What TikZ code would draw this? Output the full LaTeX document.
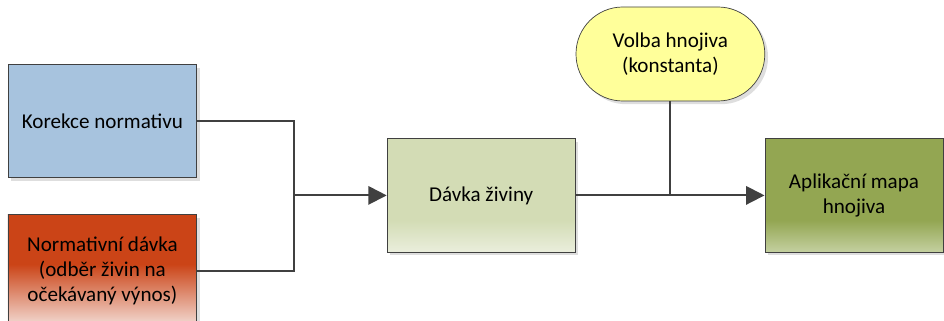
\documentclass[tikz,border=0pt]{standalone}
\usepackage{fontspec}
\setmainfont{Carlito}
\usepackage{tikz}
\usetikzlibrary{arrows.meta, positioning, shadows}

\definecolor{linegray}{HTML}{404040}
\definecolor{korfill}{HTML}{A7C3DE}
\definecolor{normbase}{HTML}{CB4417}
\definecolor{normlight}{HTML}{F4E0DA}
\definecolor{davkabase}{HTML}{D3DCB5}
\definecolor{davkalight}{HTML}{EAEEDC}
\definecolor{aplbase}{HTML}{93A652}
\definecolor{apllight}{HTML}{C4D0A0}
\definecolor{volbafill}{HTML}{FFFF9A}

% vertical fades (box spans 25bp..75bp)
\pgfdeclareverticalshading{normfade}{100bp}{color(0bp)=(normlight); color(25bp)=(normlight); color(53bp)=(normbase); color(100bp)=(normbase)}
\pgfdeclareverticalshading{davkafade}{100bp}{color(0bp)=(davkalight); color(25bp)=(davkalight); color(39bp)=(davkabase); color(100bp)=(davkabase)}
\pgfdeclareverticalshading{aplfade}{100bp}{color(0bp)=(apllight); color(25bp)=(apllight); color(39bp)=(aplbase); color(100bp)=(aplbase)}

\begin{document}
\begin{tikzpicture}[
    font=\fontsize{15}{18}\selectfont,
    box/.style={draw=linegray, line width=0.7pt, align=center,
        minimum width=4.72cm, minimum height=2.83cm,
        drop shadow={shadow xshift=0.08cm, shadow yshift=-0.08cm, fill=black!13, opacity=1}},
    pill/.style={box, rounded corners=1.17cm, minimum height=2.35cm, fill=volbafill, line width=0.5pt},
    link/.style={draw=linegray, line width=1.4pt},
    arrow/.style={link, -{Triangle[length=4.6mm, width=4.6mm]}}
]
\clip (0,0) rectangle (23.6,8.025);

% Inputs (left)
\node[box, fill=korfill] (kor) at (2.56,5.0) {Korekce normativu};
\node[box, shading=normfade] (norm) at (2.56,1.25) {Normativní dávka\\(odběr živin na\\očekávaný výnos)};

% Centre and output
\node[box, shading=davkafade, minimum width=4.7cm] (davka) at (12.03,3.14) {Dávka živiny};
\node[pill] (volba) at (16.76,6.675) {Volba hnojiva\\(konstanta)};
\node[box, shading=aplfade, minimum width=4.45cm] (apl) at (21.35,3.14) {Aplikační mapa\\hnojiva};

% Joining point of the two inputs
\coordinate (join) at (7.35,3.14);

% Connectors
\draw[link] (kor.east) -| (join);
\draw[link] (norm.east) -| (join);
\draw[arrow] (join) -- (davka.west);
\draw[arrow] (davka.east) -- (apl.west);
\draw[link] (volba.south) -- (volba.south |- davka.east);

\end{tikzpicture}
\end{document}
